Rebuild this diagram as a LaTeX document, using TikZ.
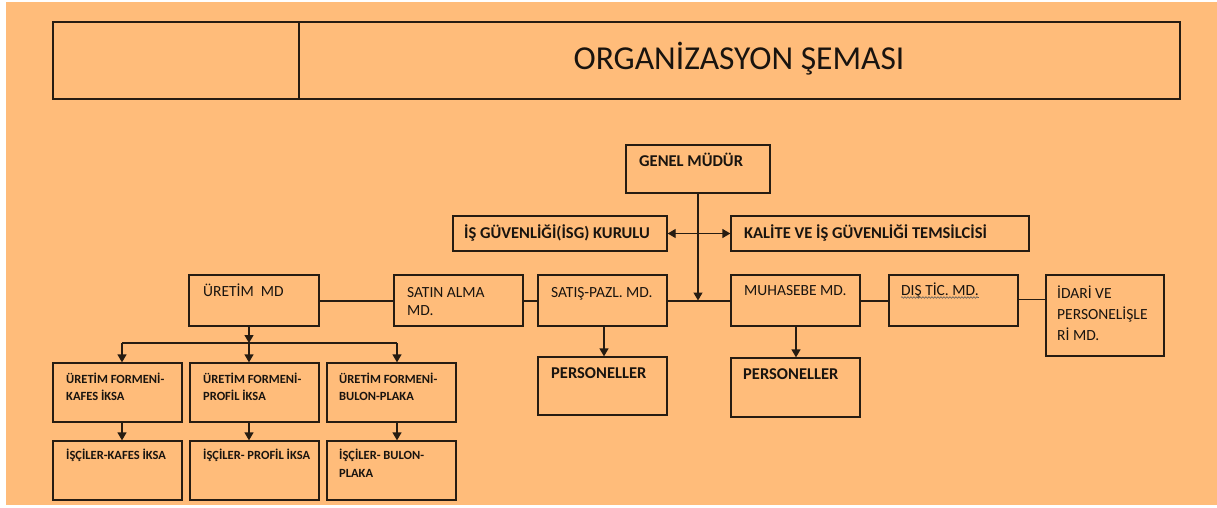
\documentclass[tikz,border=0pt]{standalone}
\usepackage{fontspec}
\setmainfont{Carlito}
\usetikzlibrary{arrows.meta,fit,decorations.pathmorphing}
\definecolor{bgor}{RGB}{255,188,122}
\definecolor{lc}{RGB}{38,28,18}
\definecolor{tc}{RGB}{25,20,15}
\newcommand\linesTwo[2]{\vtop{\hbox{\strut #1}\hbox{\strut #2}}}
\newcommand\linesThree[3]{\vtop{\hbox{\strut #1}\hbox{\strut #2}\hbox{\strut #3}}}
\begin{document}
\begin{tikzpicture}[x=1pt,y=-1pt,
  box/.style={draw=lc, line width=1.3pt, inner sep=0pt},
  txt/.style={anchor=base west, inner sep=0pt, text=tc},
  fTitle/.style={font={\fontsize{33.5}{38}\selectfont}},
  fBig/.style={font={\fontsize{16.5}{20}\selectfont\bfseries}},
  fMid/.style={font={\fontsize{15.5}{18}\selectfont\setlength\baselineskip{18pt}}},
  fMidL/.style={font={\fontsize{15.5}{21}\selectfont}},
  fPer/.style={font={\fontsize{16.5}{20}\selectfont\bfseries}},
  fSm/.style={font={\fontsize{12.5}{17}\selectfont\bfseries}},
  fSmL/.style={font={\fontsize{12.5}{18}\selectfont\bfseries}},
  conn/.style={draw=lc, line width=1.3pt},
  mainline/.style={draw=lc, line width=2pt},
  arr/.style={draw=lc, line width=1.3pt, -{Triangle[length=8pt,width=9pt]}},
  darr/.style={draw=lc, line width=1.3pt, {Triangle[length=8pt,width=9pt]}-{Triangle[length=8pt,width=9pt]}}
]
\useasboundingbox (0,0) rectangle (1217,508);
\fill[white] (0,0) rectangle (1217,508);
\fill[bgor] (6,2) rectangle (1217,505);

% title
\node[box, fit={(53,22) (299,99)}] (tl) {};
\node[box, fit={(299,22) (1180,99)}] (tr) {};
\node[anchor=base, inner sep=0pt, text=tc, fTitle] (title) at (739,70) {ORGANİZASYON ŞEMASI};

% top
\node[box, fit={(626,145) (770,193)}] (gm) {};
\node[txt, fBig] (gmT) at (639,166) {GENEL MÜDÜR};
\node[box, fit={(453,216) (667,251)}] (isg) {};
\node[txt, fBig] (isgT) at (464,238) {İŞ GÜVENLİĞİ(İSG) KURULU};
\node[box, fit={(731,216) (1029,251)}] (kal) {};
\node[txt, fBig] (kalT) at (744,238) {KALİTE VE İŞ GÜVENLİĞİ TEMSİLCİSİ};

% row 2
\node[box, fit={(189,275) (319,326)}] (ur) {};
\node[txt, fMid] (urT) at (203,296) {ÜRETİM\ \ MD};
\node[box, fit={(394,275) (523,326)}] (sa) {};
\node[txt, fMid] (saT) at (407,297) {\linesTwo{SATIN ALMA}{MD.}};
\node[box, fit={(538,275) (667,326)}] (sp) {};
\node[txt, fMid] (spT) at (551,297) {SATIŞ-PAZL. MD.};
\node[box, fit={(731,275) (860,326)}] (mu) {};
\node[txt, fMid] (muT) at (744,295) {MUHASEBE MD.};
\node[box, fit={(889,275) (1018,326)}] (dt) {};
\node[txt, fMid] (dtT) at (901,295) {DIŞ TİC. MD.};
\node[box, fit={(1046,275) (1164,356)}] (id) {};
\node[txt, fMidL] (idT) at (1057,298) {\linesThree{İDARİ VE}{PERSONELİŞLE}{Rİ MD.}};

% personel
\node[box, fit={(538,357) (667,415)}] (p1) {};
\node[txt, fPer] (p1T) at (551,378) {PERSONELLER};
\node[box, fit={(731,358) (860,417)}] (p2) {};
\node[txt, fPer] (p2T) at (743,379) {PERSONELLER};

% row 3
\node[box, fit={(53,363) (182,422)}] (f1) {};
\node[txt, fSm] (f1T) at (66,383) {\linesTwo{ÜRETİM FORMENİ-}{KAFES İKSA}};
\node[box, fit={(190,363) (319,422)}] (f2) {};
\node[txt, fSm] (f2T) at (203,383) {\linesTwo{ÜRETİM FORMENİ-}{PROFİL İKSA}};
\node[box, fit={(327,363) (456,422)}] (f3) {};
\node[txt, fSm] (f3T) at (339,383) {\linesTwo{ÜRETİM FORMENİ-}{BULON-PLAKA}};

% row 4
\node[box, fit={(53,441) (182,500)}] (w1) {};
\node[txt, fSmL] (w1T) at (66,459) {İŞÇİLER-KAFES İKSA};
\node[box, fit={(190,441) (319,500)}] (w2) {};
\node[txt, fSmL] (w2T) at (203,459) {İŞÇİLER- PROFİL İKSA};
\node[box, fit={(327,441) (456,500)}] (w3) {};
\node[txt, fSmL] (w3T) at (339,459) {\linesTwo{İŞÇİLER- BULON-}{PLAKA}};

% connectors
\draw[arr] (gm.south) -- (gm.south |- mu.west);
\draw[darr] (isg.east) -- (kal.west);
\draw[mainline] (ur.east) -- (sa.west);
\draw[mainline] (sa.east) -- (sp.west);
\draw[mainline] (sp.east) -- (mu.west);
\draw[mainline] (mu.east) -- (dt.west);
\draw[draw=lc, line width=1pt] (dt.east |- 0,299) -- (id.west |- 0,299);

\draw[arr] (sp.south -| 604,0) -- (p1.north -| 604,0);
\draw[arr] (mu.south -| 796,0) -- (p2.north -| 796,0);

\coordinate (b1) at (122,343);
\coordinate (b2) at (249,343);
\coordinate (b3) at (397,343);
\draw[arr] (ur.south -| b2) -- (b2);
\draw[conn] (b1) -- (b3);
\draw[arr] (b1) -- (b1 |- f1.north);
\draw[arr] (b2) -- (b2 |- f2.north);
\draw[arr] (b3) -- (b3 |- f3.north);
\draw[arr] (f1.south -| b1) -- (w1.north -| b1);
\draw[arr] (f2.south -| b2) -- (w2.north -| b2);
\draw[arr] (f3.south -| b3) -- (w3.north -| b3);

% spell-check wave under DIS TIC. MD.
\draw[gray!70!black, line width=0.6pt, decorate, decoration={snake, amplitude=0.8pt, segment length=3pt}] ([yshift=-2.5pt]dtT.base west) -- ([yshift=-2.5pt]dtT.base east);
\end{tikzpicture}
\end{document}
